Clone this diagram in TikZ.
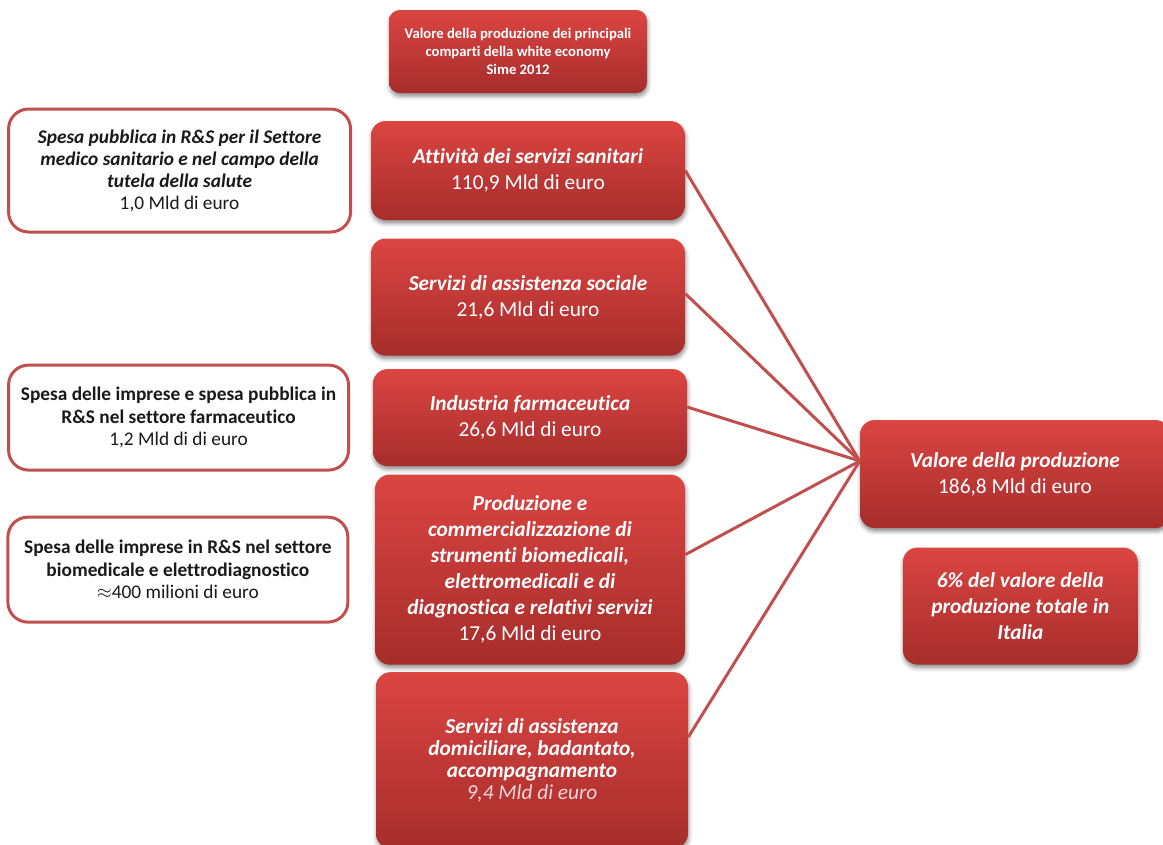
\documentclass[tikz,border=0pt]{standalone}
\usepackage{fontspec}
\setmainfont{Carlito}[RawFeature={-liga;-clig;-dlig}]
\usetikzlibrary{positioning, shadows.blur}

\definecolor{boxtop}{RGB}{219,69,66}
\definecolor{boxbot}{RGB}{166,45,43}
\definecolor{boxline}{RGB}{192,80,77}
\definecolor{valpink}{RGB}{244,214,212}

\begin{document}
\begin{tikzpicture}[x=0.75pt, y=-0.75pt,
        redbox/.style={rounded corners=11pt, top color=boxtop, bottom color=boxbot,
            text=white, align=center,
            blur shadow={shadow xshift=0.5pt, shadow yshift=-2.5pt, shadow blur radius=3pt, shadow opacity=45},
            font=\fontsize{16}{19.5}\selectfont\bfseries\itshape},
        spesa/.style={draw=boxline, line width=2.25pt, rounded corners=15pt,
            fill=white, align=center, text=black!90,
            minimum width=255pt, minimum height=78.75pt,
            font=\fontsize{14.5}{16.8}\selectfont\bfseries},
        link/.style={draw=boxline, line width=2.25pt}]
        \useasboundingbox (0,0) rectangle (1163,844);
        \clip (0,0) rectangle (1163,844);

        \node[redbox, rounded corners=8pt,
            minimum width=193.5pt, minimum height=62.25pt,
            font=\fontsize{11}{13.5}\selectfont\bfseries](titolo) at (518,51.5)
            {Valore della produzione dei principali\\comparti della white economy\\Sime 2012};

        \node[redbox, minimum width=235.5pt, minimum height=74.25pt](a) at (528,170.5)
            {Attività dei servizi sanitari\\{\mdseries\upshape 110,9 Mld di euro}};
        \node[redbox, below=13.5pt of a,
            minimum width=235.5pt, minimum height=87.75pt](b)
            {Servizi di assistenza sociale\\{\mdseries\upshape 21,6 Mld di euro}};
        \node[redbox, below=9.75pt of b, xshift=1.5pt,
            minimum width=235.5pt, minimum height=72.75pt](c)
            {Industria farmaceutica\\{\mdseries\upshape 26,6 Mld di euro}};
        \node[redbox, below=6pt of c,
            minimum width=232.5pt, minimum height=142.5pt](d)
            {Produzione e\\commercializzazione di\\strumenti biomedicali,\\elettromedicali e di\\diagnostica e relativi servizi\\{\mdseries\upshape 17,6 Mld di euro}};
        \node[redbox, below=5.25pt of d, xshift=1.5pt,
            minimum width=234pt, minimum height=132pt,
            font=\fontsize{16}{16.5}\selectfont\bfseries\itshape](e)
            {Servizi di assistenza\\domiciliare, badantato,\\accompagnamento\\{\mdseries\color{valpink}9,4 Mld di euro}};

        \node[spesa, left=14pt of a, minimum width=256.5pt, minimum height=92.25pt,
            font=\fontsize{14.5}{16.5}\selectfont\bfseries\itshape](r1)
            {Spesa pubblica in R\&S per il Settore\\medico sanitario e nel campo della\\tutela della salute\\{\mdseries\upshape 1,0 Mld di euro}};
        \node[spesa, left=17pt of c](r2)
            {Spesa delle imprese e spesa pubblica in\\R\&S nel settore farmaceutico\\{\mdseries 1,2 Mld di di euro}};
        \node[spesa, left=19pt of d](r3)
            {Spesa delle imprese in R\&S nel settore\\biomedicale e elettrodiagnostico\\{\mdseries $\approx$400 milioni di euro}};

        \node[redbox, minimum width=232.5pt, minimum height=81pt](val) at (1015,474)
            {Valore della produzione\\{\mdseries\upshape 186,8 Mld di euro}};
        \node[redbox, below=14.25pt of val, xshift=4pt,
            minimum width=176.25pt, minimum height=87.75pt](perc)
            {6\% del valore della\\produzione totale in\\Italia};

        \coordinate[yshift=9.75pt] (hub) at (val.west);
        \draw[link] (a.east) -- (hub);
        \draw[link] ([yshift=2.6pt]b.east) -- (hub);
        \draw[link] ([yshift=7.9pt]c.east) -- (hub);
        \draw[link] ([yshift=11.25pt]d.east) -- (hub);
        \draw[link] ([yshift=17.25pt]e.east) -- (hub);
    \end{tikzpicture}
\end{document}
